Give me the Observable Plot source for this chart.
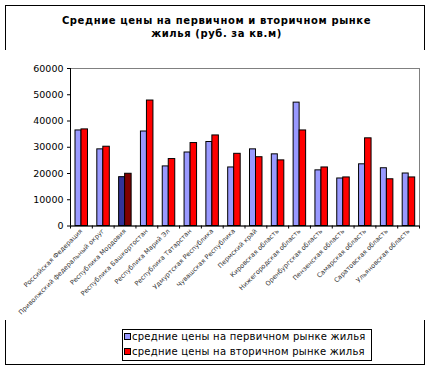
<!DOCTYPE html>
<html>
<head>
<meta charset="utf-8">
<script src="https://cdn.jsdelivr.net/npm/d3@7"></script>
<script src="https://cdn.jsdelivr.net/npm/@observablehq/plot@0.6"></script>
<style>
  html, body { margin: 0; padding: 0; background: #fff; }
  body { width: 433px; height: 370px; position: relative; overflow: hidden; font-family: "DejaVu Sans", sans-serif; }
  #frame { position: absolute; left: 5px; top: 5px; width: 420px; height: 360px; border: 1px solid #000; box-sizing: border-box; }
  #title { position: absolute; left: 0; top: 14px; width: 433px; text-align: center; font-weight: bold; font-size: 10px; line-height: 13px; letter-spacing: 0.6px; color: #000; }
  #chart { position: absolute; left: 0; top: 50px; }
  #legend { position: absolute; left: 122px; top: 329px; width: 250px; height: 32px; border: 1px solid #000; box-sizing: border-box; background: #fff; font-size: 10px; letter-spacing: 0.25px; }
  .row { position: absolute; left: 1px; height: 14px; line-height: 14px; white-space: nowrap; }
  .sw { display: inline-block; width: 5px; height: 5px; border: 1px solid #000; margin-right: 1px; vertical-align: 0px; }
</style>
</head>
<body>
<div id="frame"></div>
<div id="title">Средние цены на первичном и вторичном рынке<br>жилья (руб. за кв.м)</div>
<div id="chart"></div>
<div id="legend"></div>
<script>
const categories = [
  "Российская Федерация",
  "Приволжский федеральный округ",
  "Республика Мордовия",
  "Республика Башкортостан",
  "Республика Марий Эл",
  "Республика Татарстан",
  "Удмуртская Республика",
  "Чувашская Республика",
  "Пермский край",
  "Кировская область",
  "Нижегородская область",
  "Оренбургская область",
  "Пензенская область",
  "Самарская область",
  "Саратовская область",
  "Ульяновская область"
];
const seriesNames = [
  "средние цены на первичном рынке жилья",
  "средние цены на вторичном рынке жилья"
];
const primaryPrices = [36400, 29200, 18600, 36000, 22700, 28000, 32000, 22300, 29200, 27300, 47000, 21200, 18100, 23500, 22000, 20000];
const secondaryPrices = [36800, 30200, 19900, 47800, 25500, 31600, 34500, 27500, 26200, 25000, 36400, 22300, 18500, 33400, 17800, 18500];
const yTicks = [0, 10000, 20000, 30000, 40000, 50000, 60000];
const highlighted = "Республика Мордовия";

const colors = {
  primary: "#9999FF", secondary: "#FF0000",
  primaryHi: "#333399", secondaryHi: "#800000"
};

const primary = categories.map((c, i) => ({category: c, value: primaryPrices[i]}));
const secondary = categories.map((c, i) => ({category: c, value: secondaryPrices[i]}));

const W = 433, H = 270, ML = 70, MR = 14, MT = 18, MB = 94.5;
const bw = (W - ML - MR) / categories.length;

const chart = Plot.plot({
  width: W,
  height: H,
  marginLeft: ML,
  marginRight: MR,
  marginTop: MT,
  marginBottom: MB,
  style: { fontFamily: "DejaVu Sans, sans-serif", background: "#fff", color: "#000" },
  x: { type: "band", domain: categories, padding: 0, round: false, label: null },
  y: { domain: [0, 60000], label: null },
  marks: [
    Plot.frame({ stroke: "#808080" }),
    Plot.barY(primary, {
      x: "category", y: "value",
      fill: d => d.category === highlighted ? colors.primaryHi : colors.primary,
      stroke: "#000", strokeWidth: 1,
      insetLeft: 5, insetRight: bw - 11
    }),
    Plot.barY(secondary, {
      x: "category", y: "value",
      fill: d => d.category === highlighted ? colors.secondaryHi : colors.secondary,
      stroke: "#000", strokeWidth: 1,
      insetLeft: 11, insetRight: bw - 17.5
    }),
    Plot.ruleY([0], { stroke: "#000" }),
    Plot.ruleX([categories[0]], { x: d => d, dx: -bw / 2, stroke: "#000" }),
    Plot.ruleX(categories, { x: d => d, y1: 0, y2: 0, dx: -bw / 2, insetBottom: -3, stroke: "#000" }),
    Plot.ruleX([categories[categories.length - 1]], { x: d => d, y1: 0, y2: 0, dx: bw / 2, insetBottom: -3, stroke: "#000" }),
    Plot.axisY({ ticks: yTicks, tickFormat: d => String(d), tickSize: 3, tickPadding: 4, fontSize: 9.5, label: null }),
    Plot.axisX({ tickSize: 0, tickRotate: -45, tickPadding: 4, fontSize: 6.5, fill: "#333", label: null })
  ]
});
document.getElementById("chart").appendChild(chart);

const legend = document.getElementById("legend");
const legendColors = [colors.primary, colors.secondary];
seriesNames.forEach((name, i) => {
  const row = document.createElement("div");
  row.className = "row";
  row.style.top = (i === 0 ? 0 : 15) + "px";
  const sw = document.createElement("span");
  sw.className = "sw";
  sw.style.background = legendColors[i];
  row.appendChild(sw);
  row.appendChild(document.createTextNode(name));
  legend.appendChild(row);
});
</script>
</body>
</html>
